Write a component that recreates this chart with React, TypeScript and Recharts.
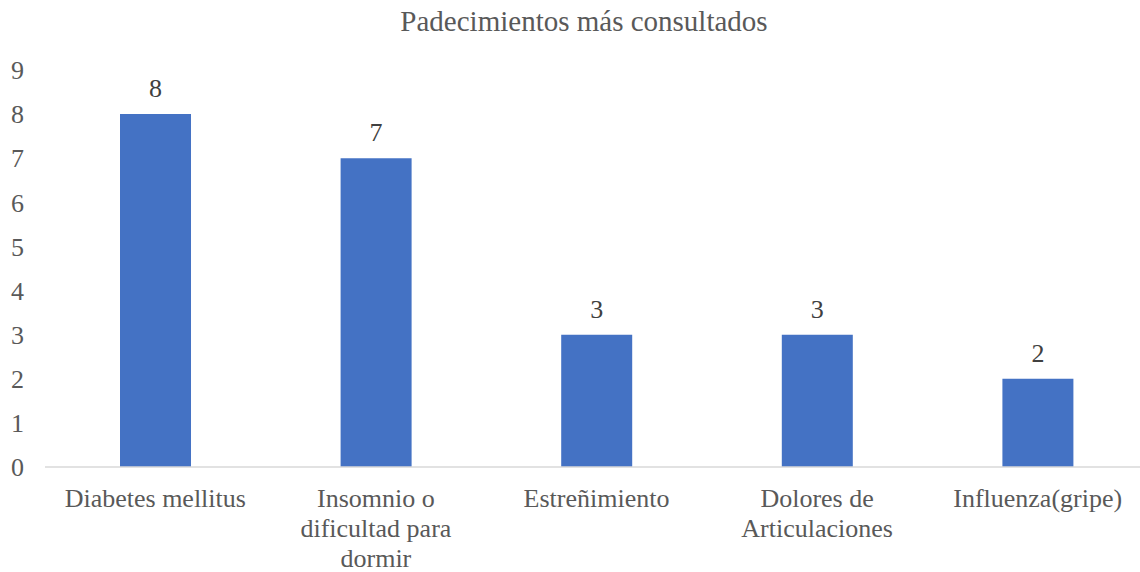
import { BarChart, Bar, XAxis, YAxis, LabelList } from "recharts";

const categories = [
  "Diabetes mellitus",
  "Insomnio o\ndificultad para\ndormir",
  "Estreñimiento",
  "Dolores de\nArticulaciones",
  "Influenza(gripe)",
];
const counts = [8, 7, 3, 3, 2];
const yTicks = [0, 1, 2, 3, 4, 5, 6, 7, 8, 9];

const data = categories.map((name, i) => ({ name, value: counts[i] }));

const FONT = "Liberation Serif";
const TEXT = "#595959";

// multi-line category labels, lines split on "\n"
const CategoryTick = (props: any) => {
  const { x, y, payload } = props;
  const lines = String(payload.value).split("\n");
  return (
    <text
      x={x}
      y={y}
      textAnchor="middle"
      fill={TEXT}
      style={{ fontFamily: FONT, fontSize: 26 }}
    >
      {lines.map((line, i) => (
        <tspan key={i} x={x} dy={i === 0 ? 39.5 : 30}>
          {line}
        </tspan>
      ))}
    </text>
  );
};

const App = () => (
  <div
    style={{
      position: "absolute",
      left: 0,
      top: 0,
      width: 1140,
      height: 572,
      background: "#fff",
    }}
  >
    <div
      style={{
        position: "absolute",
        left: 0,
        top: 4,
        width: 1168,
        textAlign: "center",
        color: TEXT,
        fontSize: 29,
        lineHeight: "34px",
        fontFamily: FONT,
      }}
    >
      Padecimientos más consultados
    </div>
    <BarChart
      width={1140}
      height={572}
      data={data}
      margin={{ top: 70, right: -8, left: 0, bottom: 0 }}
      barCategoryGap="34%"
    >
      <XAxis
        dataKey="name"
        height={105}
        tickLine={false}
        tickSize={0}
        tickMargin={0}
        axisLine={{ stroke: "#d9d9d9", strokeWidth: 1.5 }}
        tick={<CategoryTick />}
        interval={0}
      />
      <YAxis
        width={45}
        domain={[0, 9]}
        ticks={yTicks}
        interval={0}
        axisLine={false}
        tickLine={false}
        tickSize={6}
        tickMargin={15}
        tick={{ fill: TEXT, fontFamily: FONT, fontSize: 26 }}
      />
      <Bar dataKey="value" fill="#4472c4" isAnimationActive={false}>
        <LabelList
          dataKey="value"
          position="top"
          offset={17}
          fill="#404040"
          style={{ fontFamily: FONT, fontSize: 26 }}
        />
      </Bar>
    </BarChart>
  </div>
);

export default App;
